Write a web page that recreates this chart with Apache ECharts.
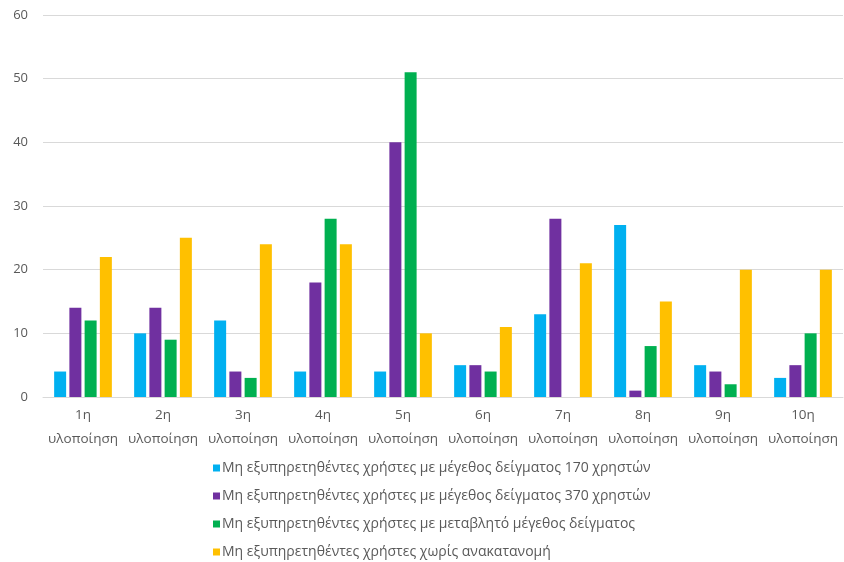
<!DOCTYPE html>
<html><head><meta charset="utf-8">
<script src="https://cdn.jsdelivr.net/npm/echarts@6/dist/echarts.min.js"></script>
<style>html,body{margin:0;padding:0;background:#fff}#c{width:844px;height:562px}</style>
</head><body><div id="c"></div>
<script>
var categories = ['1η\nυλοποίηση','2η\nυλοποίηση','3η\nυλοποίηση','4η\nυλοποίηση','5η\nυλοποίηση','6η\nυλοποίηση','7η\nυλοποίηση','8η\nυλοποίηση','9η\nυλοποίηση','10η\nυλοποίηση'];
var seriesNames = [
  'Μη εξυπηρετηθέντες χρήστες με μέγεθος δείγματος 170 χρηστών',
  'Μη εξυπηρετηθέντες χρήστες με μέγεθος δείγματος 370 χρηστών',
  'Μη εξυπηρετηθέντες χρήστες με μεταβλητό μέγεθος δείγματος',
  'Μη εξυπηρετηθέντες χρήστες χωρίς ανακατανομή'
];
var s170 = [4, 10, 12, 4, 4, 5, 13, 27, 5, 3];
var s370 = [14, 14, 4, 18, 40, 5, 28, 1, 4, 5];
var sVar = [12, 9, 3, 28, 51, 4, 0, 8, 2, 10];
var sNone = [22, 25, 24, 24, 10, 11, 21, 15, 20, 20];
var colors = ['#00B0F0', '#7030A0', '#00B050', '#FFC000'];

var font = '"Open Sans", "Noto Sans", sans-serif';
var chart = echarts.init(document.getElementById('c'));
var data = [s170, s370, sVar, sNone];
chart.setOption({
  animation: false,
  textStyle: {fontFamily: font},
  grid: {left: 43, right: 1, top: 15, bottom: 165, containLabel: false},
  legend: {
    orient: 'vertical', left: 213, top: 460, itemGap: 12, padding: 0,
    itemWidth: 7, itemHeight: 7, icon: 'rect',
    textStyle: {fontFamily: font, fontSize: 14, lineHeight: 16, color: '#595959', padding: [0,0,0,-3]},
    data: seriesNames
  },
  xAxis: {
    type: 'category', data: categories,
    axisLine: {lineStyle: {color: '#D9D9D9'}},
    axisTick: {show: false},
    axisLabel: {fontFamily: font, fontSize: 13.5, color: '#595959', lineHeight: 24, margin: 6, interval: 0}
  },
  yAxis: {
    type: 'value', min: 0, max: 60, interval: 10,
    axisLine: {show: false}, axisTick: {show: false},
    splitLine: {lineStyle: {color: '#D9D9D9'}},
    axisLabel: {fontFamily: font, fontSize: 13, color: '#595959', margin: 15}
  },
  series: seriesNames.map(function(n, i){
    return {name: n, type: 'bar', data: data[i], barWidth: 12, barGap: '27%',
      itemStyle: {color: colors[i]}};
  })
});
</script></body></html>
